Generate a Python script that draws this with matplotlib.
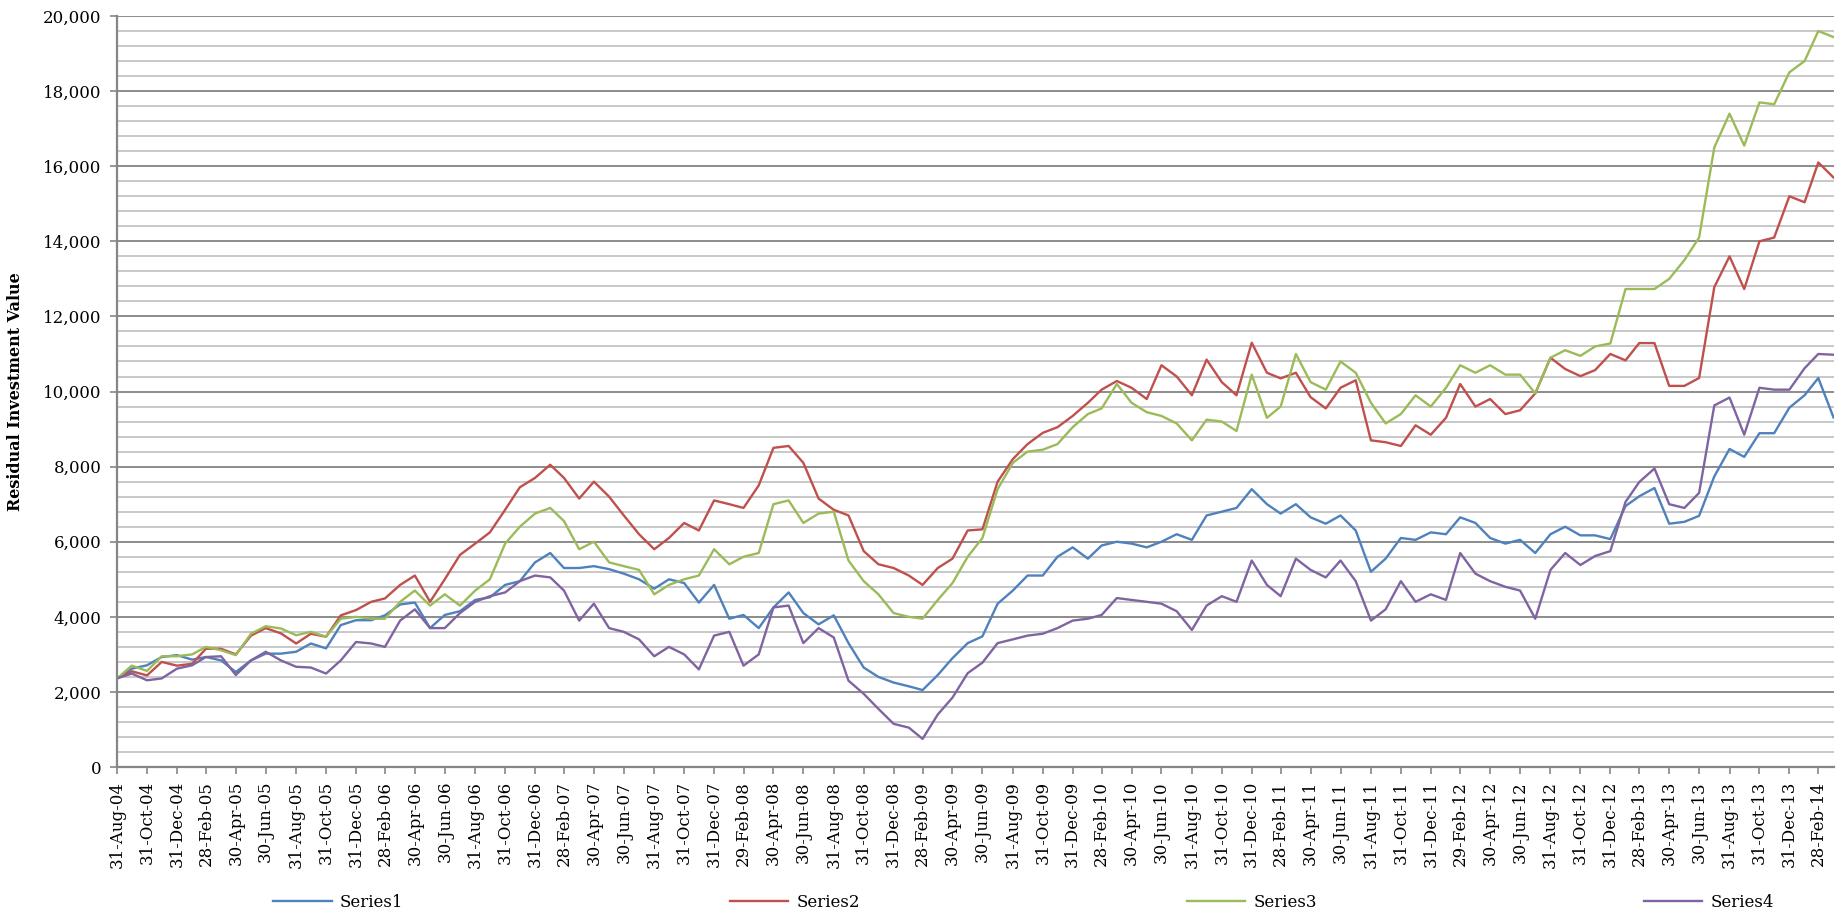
import matplotlib
matplotlib.use("Agg")
import matplotlib.pyplot as plt
from matplotlib.ticker import MultipleLocator, FuncFormatter
import pandas as pd

# ---- data (month-end readings, Aug-2004 .. Mar-2014) ----
start_date = "2004-08-31"
n_months = 116

series1 = [2360, 2620, 2710, 2930, 2980, 2860, 2930, 2840, 2530, 2840,
           3020, 3020, 3070, 3290, 3160, 3780, 3910, 3910, 4040, 4330,
           4380, 3700, 4050, 4150, 4450, 4520, 4850, 4950, 5450, 5700,
           5300, 5300, 5350, 5270, 5150, 5000, 4750, 5000, 4900, 4380,
           4850, 3950, 4050, 3700, 4250, 4650, 4100, 3800, 4040, 3300,
           2650, 2400, 2250, 2150, 2050, 2450, 2900, 3300, 3480, 4350,
           4700, 5100, 5100, 5600, 5850, 5550, 5900, 6000, 5950, 5850,
           6000, 6200, 6050, 6700, 6800, 6900, 7400, 7000, 6750, 7000,
           6650, 6480, 6700, 6300, 5200, 5550, 6100, 6050, 6250, 6200,
           6650, 6500, 6100, 5950, 6050, 5700, 6200, 6400, 6170, 6170,
           6070, 6950, 7210, 7430, 6480, 6530, 6690, 7740, 8470, 8260,
           8890, 8890, 9570, 9900, 10360, 9310]

series2 = [2360, 2550, 2440, 2800, 2700, 2750, 3150, 3150, 3000, 3500,
           3700, 3560, 3290, 3550, 3470, 4040, 4180, 4400, 4490, 4850,
           5100, 4400, 5000, 5650, 5950, 6250, 6850, 7450, 7700, 8050,
           7700, 7150, 7600, 7200, 6700, 6200, 5800, 6100, 6500, 6300,
           7100, 7000, 6900, 7500, 8500, 8550, 8100, 7150, 6850, 6700,
           5750, 5400, 5300, 5100, 4850, 5300, 5550, 6300, 6330, 7600,
           8200, 8600, 8900, 9050, 9350, 9700, 10050, 10280, 10100, 9800,
           10700, 10400, 9900, 10850, 10250, 9900, 11300, 10500, 10350, 10500,
           9850, 9550, 10100, 10300, 8700, 8650, 8550, 9100, 8850, 9300,
           10200, 9600, 9800, 9400, 9500, 9950, 10900, 10600, 10410, 10570,
           11000, 10830, 11290, 11290, 10150, 10150, 10360, 12780, 13600, 12730,
           14000, 14100, 15200, 15040, 16100, 15700]

series3 = [2360, 2700, 2560, 2950, 2950, 3000, 3200, 3110, 2980, 3550,
           3750, 3690, 3510, 3600, 3470, 3950, 4000, 3950, 3950, 4400,
           4700, 4300, 4600, 4300, 4700, 5000, 5950, 6400, 6750, 6900,
           6550, 5800, 6000, 5450, 5350, 5250, 4600, 4850, 5000, 5100,
           5800, 5400, 5600, 5700, 7000, 7100, 6500, 6750, 6800, 5500,
           4950, 4600, 4100, 4000, 3950, 4450, 4900, 5600, 6100, 7400,
           8100, 8400, 8450, 8600, 9050, 9400, 9550, 10200, 9700, 9450,
           9350, 9150, 8700, 9250, 9200, 8950, 10450, 9300, 9600, 11000,
           10250, 10050, 10800, 10500, 9700, 9150, 9400, 9900, 9600, 10100,
           10700, 10500, 10700, 10450, 10450, 9950, 10900, 11100, 10950, 11200,
           11280, 12730, 12730, 12730, 13000, 13500, 14100, 16500, 17400, 16550,
           17700, 17650, 18500, 18800, 19600, 19440]

series4 = [2360, 2490, 2310, 2360, 2620, 2710, 2930, 2950, 2450, 2840,
           3070, 2840, 2670, 2650, 2490, 2840, 3330, 3290, 3200, 3900,
           4200, 3700, 3700, 4100, 4400, 4550, 4650, 4950, 5100, 5050,
           4700, 3900, 4350, 3700, 3600, 3400, 2950, 3200, 3000, 2600,
           3500, 3600, 2700, 3000, 4250, 4300, 3300, 3700, 3450, 2300,
           1950, 1550, 1150, 1050, 750, 1400, 1850, 2500, 2780, 3300,
           3400, 3500, 3550, 3700, 3900, 3950, 4050, 4500, 4450, 4400,
           4350, 4150, 3650, 4300, 4550, 4400, 5500, 4850, 4550, 5550,
           5250, 5050, 5500, 4950, 3900, 4200, 4950, 4400, 4600, 4450,
           5700, 5150, 4950, 4800, 4700, 3950, 5250, 5700, 5380, 5620,
           5750, 7060, 7590, 7950, 7000, 6900, 7300, 9630, 9840, 8850,
           10100, 10050, 10050, 10620, 11000, 10980]

series_names = ["Series1", "Series2", "Series3", "Series4"]
series_colors = ["#4F81BD", "#C0504D", "#9BBB59", "#8064A2"]
y_label = "Residual Investment Value"

dates = pd.date_range(start_date, periods=n_months, freq="ME")
tick_dates = pd.date_range("2004-08-31", "2014-02-28", freq="2ME")

plt.rcParams["font.family"] = ["DejaVu Serif"]

fig = plt.figure(figsize=(18.41, 9.15), dpi=100)
ax = fig.add_axes([0.0636, 0.1617, 0.9326, 0.8208])

for vals, name, col in zip([series1, series2, series3, series4], series_names, series_colors):
    ax.plot(dates, vals, color=col, lw=1.7, label=name, solid_joinstyle="round")

ax.set_ylim(0, 20000)
ax.set_xlim(pd.Timestamp("2004-08-31"), pd.Timestamp("2014-04-01"))
ax.yaxis.set_major_locator(MultipleLocator(2000))
ax.yaxis.set_minor_locator(MultipleLocator(400))
ax.yaxis.set_major_formatter(FuncFormatter(lambda v, p: f"{int(v):,}"))
ax.grid(which="major", axis="y", color="#8c8c8c", lw=1.4)
ax.grid(which="minor", axis="y", color="#c8c8c8", lw=1.4)
ax.set_axisbelow(True)

ax.set_xticks(tick_dates)
ax.set_xticklabels([d.strftime("%d-%b-%y") for d in tick_dates], rotation=90)
ax.tick_params(axis="y", which="major", length=5, width=1.2, color="#868686",
               labelsize=12, pad=6)
ax.tick_params(axis="y", which="minor", length=0)
ax.tick_params(axis="x", length=5, width=1.2, color="#868686", labelsize=12, pad=5)

for s in ["top", "right"]:
    ax.spines[s].set_visible(False)
for s in ["left", "bottom"]:
    ax.spines[s].set_color("#868686")
    ax.spines[s].set_linewidth(1.6)

ax.set_ylabel(y_label, fontsize=11.5, fontweight="bold")
ax.yaxis.set_label_coords(-0.054, 0.5)

fig.legend(loc="lower center", bbox_to_anchor=(0.556, -0.012), ncol=4, frameon=False,
           fontsize=12, handlelength=3.5, handletextpad=0.5, columnspacing=19.6)

fig.savefig("out.png", dpi=100)
